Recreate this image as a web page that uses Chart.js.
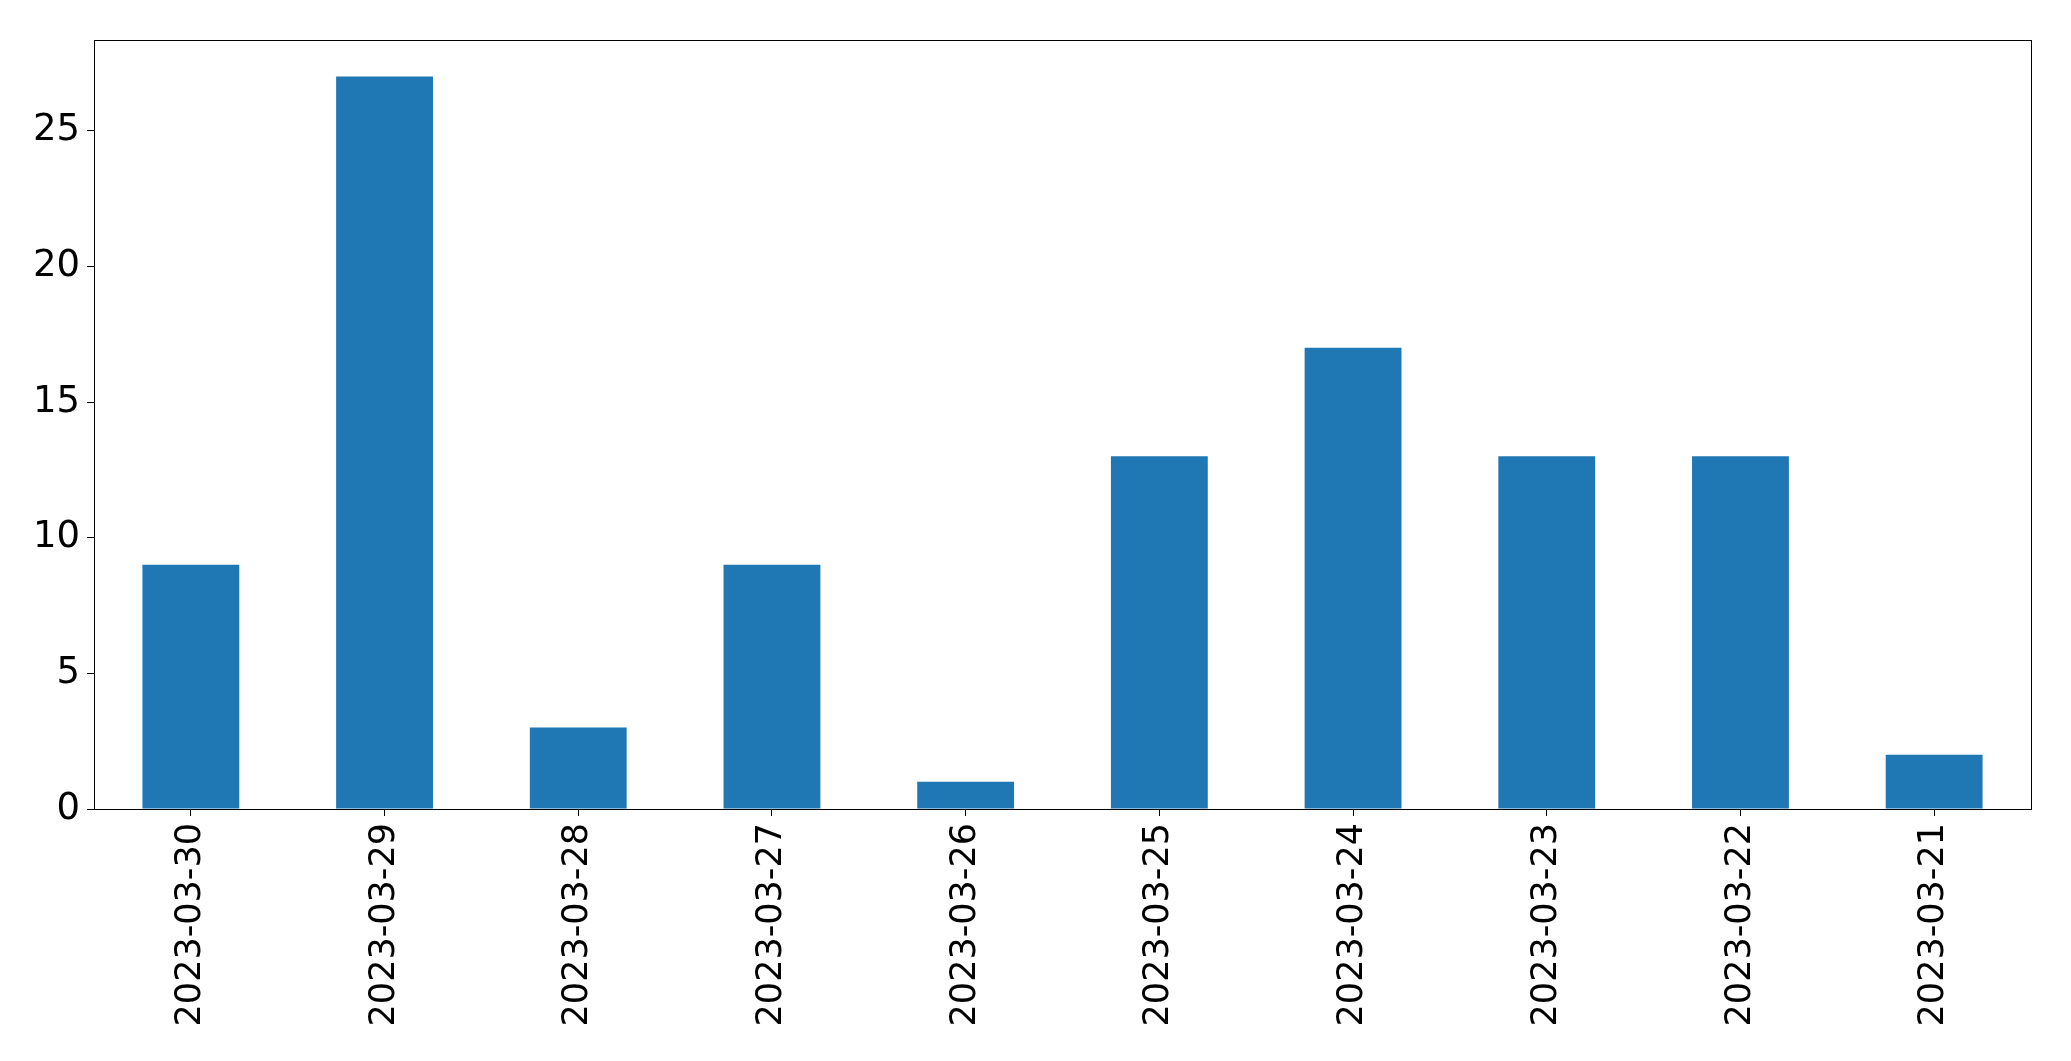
<!DOCTYPE html>
<html>
<head>
<meta charset="utf-8">
<script src="https://cdn.jsdelivr.net/npm/chart.js@4/dist/chart.umd.min.js"></script>
<style>
  html, body { margin: 0; padding: 0; background: #fff; }
  #wrap { width: 2071px; height: 1061px; position: relative; }
</style>
</head>
<body>
<div id="wrap"><canvas id="c"></canvas></div>
<script>
const dates  = ['2023-03-30', '2023-03-29', '2023-03-28', '2023-03-27', '2023-03-26',
                '2023-03-25', '2023-03-24', '2023-03-23', '2023-03-22', '2023-03-21'];
const counts = [9, 27, 3, 9, 1, 13, 17, 13, 13, 2];
const yTicks = [0, 5, 10, 15, 20, 25];

// box around the plot area, like matplotlib spines
const frame = {
  id: 'frame',
  afterDraw(chart) {
    const { ctx, chartArea: a } = chart;
    ctx.save();
    ctx.strokeStyle = '#000';
    ctx.lineWidth = 1;
    ctx.strokeRect(Math.round(a.left) + 0.5, Math.round(a.top) + 0.5,
                   Math.round(a.right - a.left), Math.round(a.bottom - a.top));
    ctx.restore();
  }
};

new Chart(document.getElementById('c'), {
  type: 'bar',
  data: {
    labels: dates,
    datasets: [{ data: counts, backgroundColor: '#1f77b4', barPercentage: 0.5, categoryPercentage: 1.0 }]
  },
  options: {
    responsive: true, maintainAspectRatio: false, animation: false,
    devicePixelRatio: 1,
    layout: { padding: { left: 0, top: 40, right: 40, bottom: 0 } },
    plugins: { legend: { display: false }, tooltip: { enabled: false } },
    scales: {
      x: {
        offset: true,
        grid: { display: true, offset: false, drawOnChartArea: false, tickLength: 7, color: '#000' },
        border: { color: '#000' },
        ticks: { color: '#000', font: { family: 'DejaVu Sans', size: 35 }, maxRotation: 90, minRotation: 90, padding: 7, autoSkip: false },
        afterFit(s) { s.height = 252; }
      },
      y: {
        min: 0, max: 28.35,
        grid: { display: true, drawOnChartArea: false, tickLength: 7, color: '#000' },
        border: { color: '#000' },
        ticks: { color: '#000', font: { family: 'DejaVu Sans', size: 37 }, stepSize: 5, padding: 7 },
        afterBuildTicks(s) { s.ticks = yTicks.map(v => ({ value: v })); },
        afterFit(s) { s.width = 94; }
      }
    }
  },
  plugins: [frame]
});
</script>
</body>
</html>
